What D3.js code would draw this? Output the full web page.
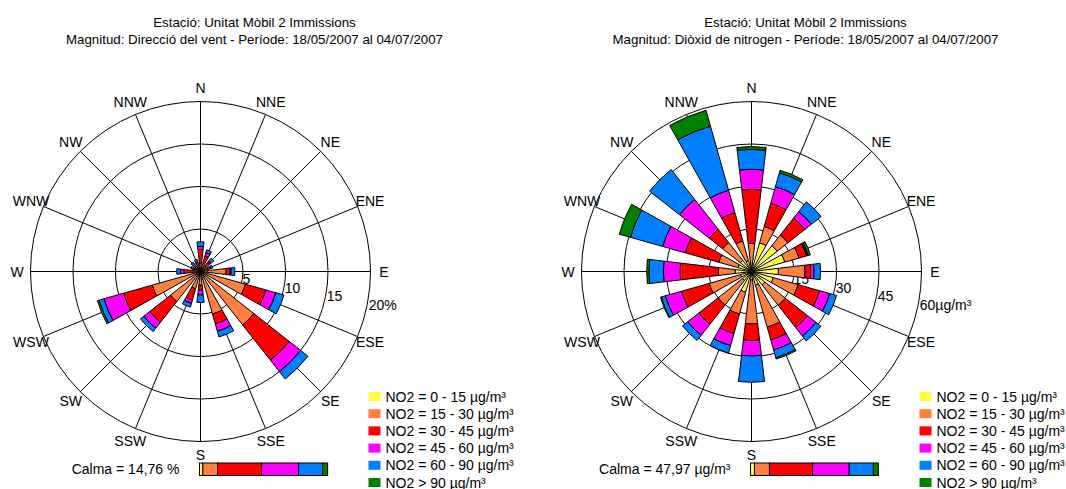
<!DOCTYPE html>
<html>
<head>
<meta charset="utf-8">
<script src="https://cdn.jsdelivr.net/npm/d3@7"></script>
<style>
  body { margin: 0; background: #fff; }
  svg { display: block; font-family: "Liberation Sans", Arial, sans-serif; }
</style>
</head>
<body>
<svg id="drawing_region"></svg>
<script>
// directions, clockwise from north
const directions = ['N','NNE','NE','ENE','E','ESE','SE','SSE','S','SSW','SW','WSW','W','WNW','NW','NNW'];
const classNames = ['NO2 = 0 - 15 µg/m³','NO2 = 15 - 30 µg/m³','NO2 = 30 - 45 µg/m³','NO2 = 45 - 60 µg/m³','NO2 = 60 - 90 µg/m³','NO2 > 90 µg/m³'];
const classColors = ['#ffff40','#ff8040','#ff0000','#ff00ff','#0080ff','#008000'];

// left rose: frequency of wind (%) by NO2 class
const freq_0_15  = [0.2,0.2,0.2,0.4,0.8,0.4,0.4,0.4,0.3,0.3,0.3,0.3,0.2,0.1,0.1,0.1];
const freq_15_30 = [0.8,0.8,0.6,0.5,2.2,5.1,7.6,4.8,1.3,1.8,4.2,5.6,0.5,0.3,0.4,0.4];
const freq_30_45 = [1.6,0.9,0.6,0.3,0.5,2.5,5.3,1.2,0.6,1.4,3.1,3.5,1.25,0.4,0.4,0.5];
const freq_45_60 = [0.35,0.4,0.2,0.1,0.1,1.2,1.7,0.9,0.55,0.4,0.9,2.4,0.4,0.1,0.2,0.2];
const freq_60_90 = [0.55,0.35,0.4,0.2,0.45,1.0,1.1,0.7,0.9,0.45,0.5,0.6,0.45,0.3,0.3,0.3];
const freq_90    = [0,0,0,0,0,0,0,0,0,0,0,0.2,0,0,0,0];
const calmFreq   = [2.6,11.5,34.4,28.9,18.8,3.9];

// right rose: NO2 (µg/m³) by direction
const conc_0_15  = [2,10.5,11.6,12.2,9.5,8,6,5,3,7.6,4,4,5.8,5,5,4];
const conc_15_30 = [7.9,6.0,4.8,5.2,9.4,9.1,9.2,15.4,15.5,8.0,11.0,11.5,5.9,7,8,7.2];
const conc_30_45 = [19.1,8.5,7.6,2.8,2.0,7.9,10.0,4.7,5.9,7.2,8.7,10.2,13.5,12.3,6,10.4];
const conc_45_60 = [7.1,6.1,2.9,0.2,1.2,3.7,3.8,3.7,5.4,4.4,5.0,5.9,5.9,8.3,13.4,8.2];
const conc_60_90 = [7.0,5.1,4.4,0.4,2.3,2.5,2.2,2.8,9.3,2.7,2.3,1.5,5.1,11.8,13.4,23.5];
const conc_90    = [1.0,0.9,0,0.8,0,0,0,0.5,0,0,0,0.3,0.8,4.1,0,5.8];
const calmConc   = [3.1,11.7,33.7,28.6,18.9,3.9];

const freqTicks = [5,10,15,20];
const freqTickLabels = ['5','10','15','20%'];
const concTicks = [15,30,45,60];
const concTickLabels = ['15','30','45','60µg/m³'];

const width = 1066, height = 489;

const svg = d3.select('#drawing_region')
    .attr('width', width)
    .attr('height', height);

svg.append('rect').attr('width', width).attr('height', height).attr('fill', '#fff');

class WindRose {

    constructor( config, series, calm ) {
        this.config = config;
        this.series = series;
        this.calm = calm;
        this.init();
    }

    init() {
        let self = this;
        let c = self.config;

        self.g = svg.append('g');

        self.rows = directions.map( (d, i) => {
            let row = { dir: d };
            classNames.forEach( (k, j) => row[k] = self.series[j][i] );
            return row;
        });

        self.stack = d3.stack().keys(classNames);

        self.r = d3.scaleLinear()
            .domain([0, c.ticks[c.ticks.length - 1]])
            .range([0, c.radius]);

        self.angle = d3.scaleBand()
            .domain(directions)
            .range([-Math.PI / 16, 2 * Math.PI - Math.PI / 16])
            .paddingInner(0.4)
            .paddingOuter(0.2);

        self.arc = d3.arc()
            .innerRadius( d => self.r(d[0]) )
            .outerRadius( d => self.r(d[1]) )
            .startAngle( d => self.angle(d.data.dir) )
            .endAngle( d => self.angle(d.data.dir) + self.angle.bandwidth() );

        self.calmScale = d3.scaleLinear().domain([0, 100]).range([0, 128]);
    }

    render() {
        let self = this;
        let c = self.config;
        let chart = self.g.append('g')
            .attr('transform', `translate(${c.cx}, ${c.cy})`);

        // titles
        self.g.selectAll('.title')
            .data(c.title)
            .join('text')
            .attr('x', c.cx + 54)
            .attr('y', (d, i) => 27 + i * 17)
            .attr('text-anchor', 'middle')
            .attr('font-size', '13.3px')
            .attr('fill', '#000')
            .text( d => d );

        // grid circles
        chart.selectAll('.ring')
            .data(c.ticks)
            .join('circle')
            .attr('r', d => self.r(d))
            .attr('fill', 'none')
            .attr('stroke', '#000')
            .attr('stroke-width', 1);

        // spokes
        chart.selectAll('.spoke')
            .data(directions)
            .join('line')
            .attr('x1', 0).attr('y1', 0)
            .attr('x2', (d, i) => d3.pointRadial(i * Math.PI / 8, c.radius)[0])
            .attr('y2', (d, i) => d3.pointRadial(i * Math.PI / 8, c.radius)[1])
            .attr('stroke', '#000')
            .attr('stroke-width', 1);

        // ring labels
        chart.selectAll('.ringlabel')
            .data(c.ticks)
            .join('text')
            .attr('x', d => self.r(d) * 0.99)
            .attr('y', d => self.r(d) * 0.2 + 4)
            .attr('font-size', '14px')
            .text( (d, i) => c.tickLabels[i] );

        // bars
        chart.selectAll('.layer')
            .data(self.stack(self.rows))
            .join('g')
            .attr('fill', (d, i) => classColors[i])
            .selectAll('path')
            .data( d => d.filter( s => s[1] - s[0] > 0 ) )
            .join('path')
            .attr('d', self.arc)
            .attr('stroke', '#000')
            .attr('stroke-width', 1);

        // compass labels
        chart.selectAll('.dirlabel')
            .data(directions)
            .join('text')
            .attr('x', (d, i) => d3.pointRadial(i * Math.PI / 8, 183.5)[0])
            .attr('y', (d, i) => d3.pointRadial(i * Math.PI / 8, 183.5)[1] + 5)
            .attr('text-anchor', 'middle')
            .attr('font-size', '14px')
            .text( d => d );

        // legend
        let legend = self.g.selectAll('.legend')
            .data(classNames)
            .join('g')
            .attr('transform', (d, i) => `translate(${c.cx + 168}, ${392 + i * 17.2})`);
        legend.append('rect')
            .attr('width', 12).attr('height', 9)
            .attr('fill', (d, i) => classColors[i]);
        legend.append('text')
            .attr('x', 17).attr('y', 9.5)
            .attr('font-size', '14px')
            .text( d => d );

        // calm
        self.g.append('text')
            .attr('x', c.cx - 21)
            .attr('y', 474)
            .attr('text-anchor', 'end')
            .attr('font-size', '14px')
            .text(c.calmLabel);

        let cum = d3.cumsum(self.calm);
        self.g.append('g')
            .attr('transform', `translate(${c.cx - 1}, 463)`)
            .selectAll('rect')
            .data(self.calm)
            .join('rect')
            .attr('x', (d, i) => self.calmScale(cum[i] - d))
            .attr('width', d => self.calmScale(d))
            .attr('height', 12.5)
            .attr('fill', (d, i) => classColors[i])
            .attr('stroke', '#000')
            .attr('stroke-width', 1);
    }
}

const left = new WindRose({
    cx: 200.5, cy: 271.5, radius: 170,
    ticks: freqTicks, tickLabels: freqTickLabels,
    title: ['Estació: Unitat Mòbil 2 Immissions', 'Magnitud: Direcció del vent - Període: 18/05/2007 al 04/07/2007'],
    calmLabel: 'Calma = 14,76 %'
}, [freq_0_15, freq_15_30, freq_30_45, freq_45_60, freq_60_90, freq_90], calmFreq);
left.render();

const right = new WindRose({
    cx: 751.5, cy: 271.5, radius: 170,
    ticks: concTicks, tickLabels: concTickLabels,
    title: ['Estació: Unitat Mòbil 2 Immissions', 'Magnitud: Diòxid de nitrogen - Període: 18/05/2007 al 04/07/2007'],
    calmLabel: 'Calma = 47,97 µg/m³'
}, [conc_0_15, conc_15_30, conc_30_45, conc_45_60, conc_60_90, conc_90], calmConc);
right.render();
</script>
</body>
</html>
